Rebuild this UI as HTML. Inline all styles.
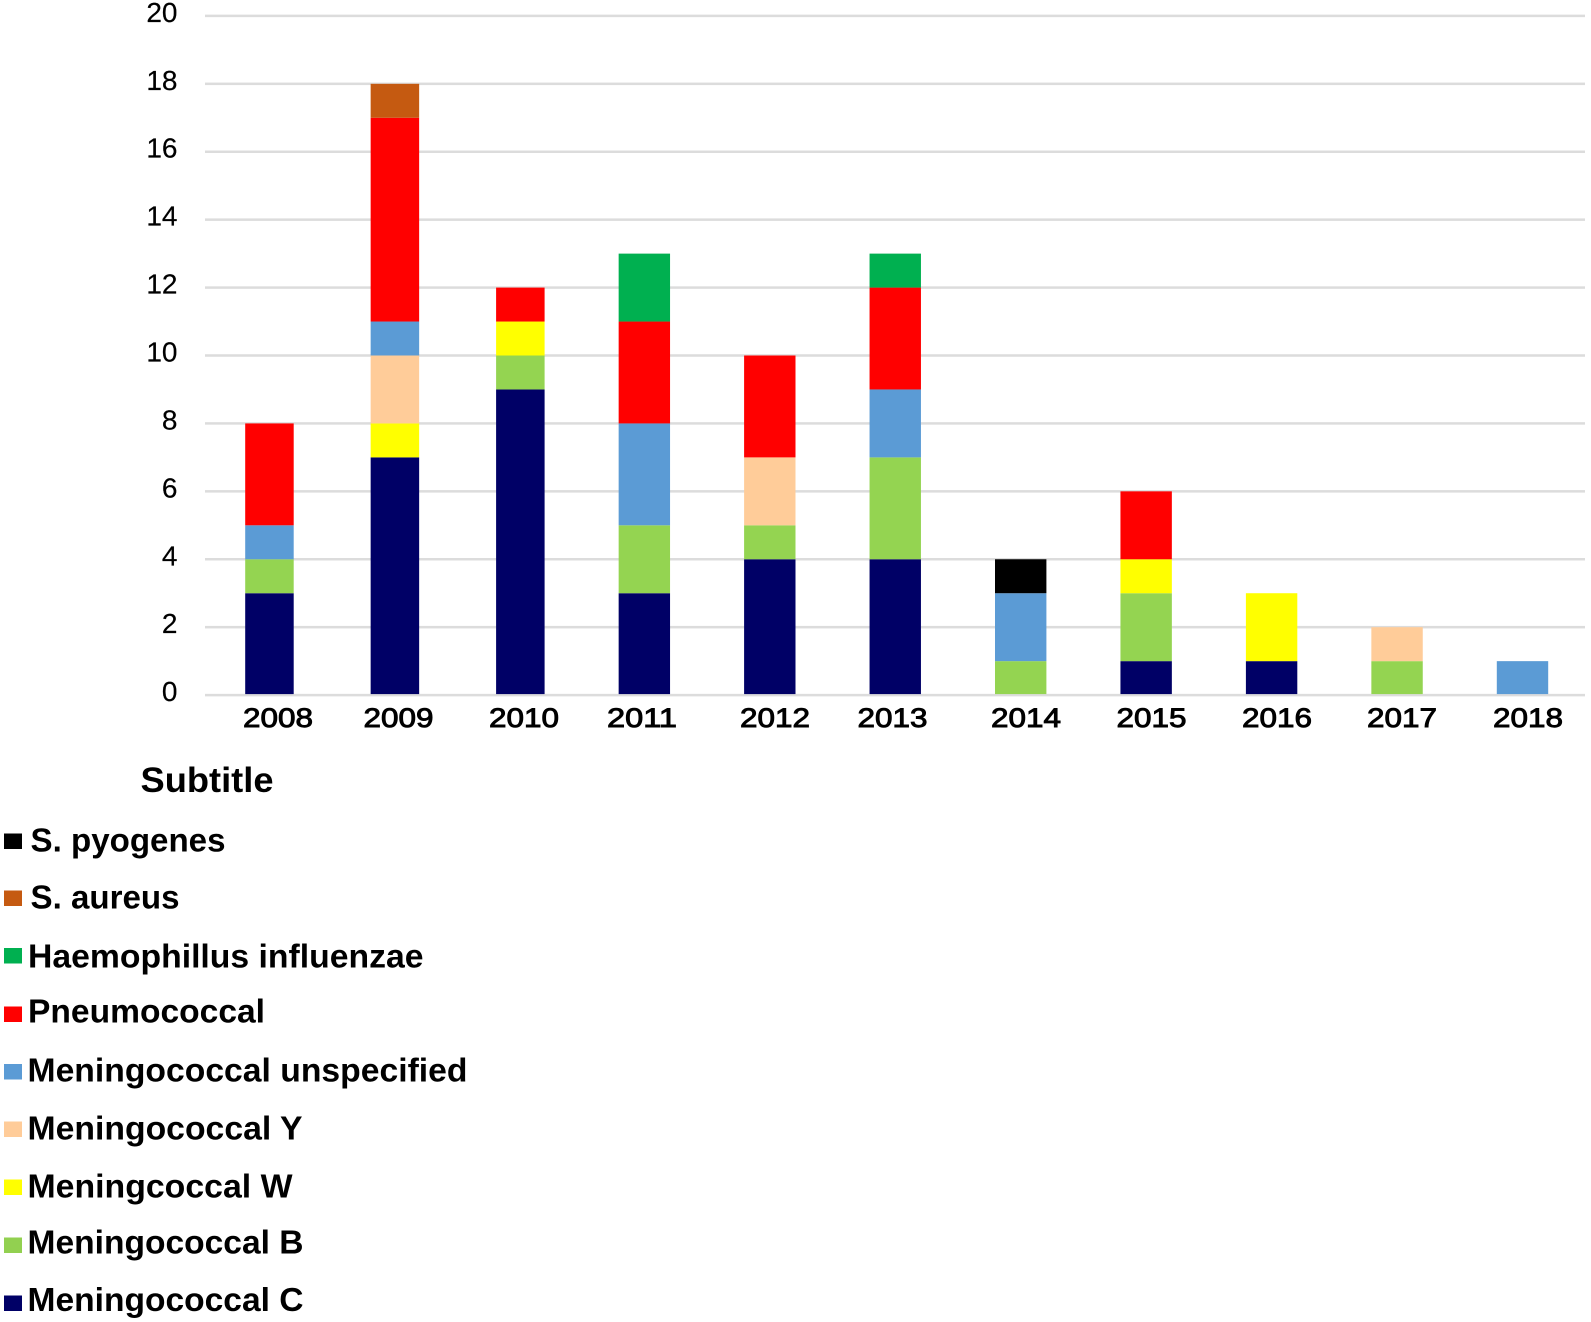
<!DOCTYPE html>
<html lang="en">
<head>
<meta charset="utf-8">
<title>Stacked bar chart by year</title>
<style>
html,body{margin:0;padding:0;background:#fff;}
svg{display:block;}
text{font-family:"Liberation Sans",sans-serif;fill:#000;}
.year{font-size:27px;stroke:#000;stroke-width:.9px;}
.ytick{font-size:28px;stroke:#000;stroke-width:.2px;}
.leg{font-size:33px;font-weight:bold;}
</style>
</head>
<body>
<svg id="chart" width="1591" height="1322" viewBox="0 0 1591 1322" xmlns="http://www.w3.org/2000/svg">
  <g id="grid"></g>
  <g id="yticks"></g>
  <g id="bars"></g>
  <g>
    <text class="year" x="243" y="727" textLength="70" lengthAdjust="spacingAndGlyphs">2008</text>
    <text class="year" x="363.5" y="727" textLength="70" lengthAdjust="spacingAndGlyphs">2009</text>
    <text class="year" x="489" y="727" textLength="70" lengthAdjust="spacingAndGlyphs">2010</text>
    <text class="year" x="607" y="727" textLength="70" lengthAdjust="spacingAndGlyphs">2011</text>
    <text class="year" x="740" y="727" textLength="70" lengthAdjust="spacingAndGlyphs">2012</text>
    <text class="year" x="857.5" y="727" textLength="70" lengthAdjust="spacingAndGlyphs">2013</text>
    <text class="year" x="991" y="727" textLength="70" lengthAdjust="spacingAndGlyphs">2014</text>
    <text class="year" x="1116.5" y="727" textLength="70" lengthAdjust="spacingAndGlyphs">2015</text>
    <text class="year" x="1242" y="727" textLength="70" lengthAdjust="spacingAndGlyphs">2016</text>
    <text class="year" x="1367" y="727" textLength="70" lengthAdjust="spacingAndGlyphs">2017</text>
    <text class="year" x="1493" y="727" textLength="70" lengthAdjust="spacingAndGlyphs">2018</text>
  </g>
  <g>
    <text x="140.5" y="792" font-size="35" font-weight="bold" textLength="133" lengthAdjust="spacingAndGlyphs">Subtitle</text>

    <rect x="4" y="833.5" width="18" height="15.5" fill="#000000"/>
    <text class="leg" x="30.5" y="851.5" textLength="195" lengthAdjust="spacingAndGlyphs">S. pyogenes</text>

    <rect x="4" y="890.5" width="18" height="15.5" fill="#C55A11"/>
    <text class="leg" x="30.5" y="908.5" textLength="149" lengthAdjust="spacingAndGlyphs">S. aureus</text>

    <rect x="4" y="948" width="18" height="15.5" fill="#00B050"/>
    <text class="leg" x="28" y="967.5" textLength="395.5" lengthAdjust="spacingAndGlyphs">Haemophillus influenzae</text>

    <rect x="4" y="1006.5" width="18" height="15.5" fill="#FF0000"/>
    <text class="leg" x="28" y="1022.5" textLength="237" lengthAdjust="spacingAndGlyphs">Pneumococcal</text>

    <rect x="4" y="1064" width="18" height="15.5" fill="#5B9BD5"/>
    <text class="leg" x="27.5" y="1081.5" textLength="440" lengthAdjust="spacingAndGlyphs">Meningococcal unspecified</text>

    <rect x="4" y="1121.5" width="18" height="15.5" fill="#FFCC99"/>
    <text class="leg" x="27.5" y="1139.5" textLength="275" lengthAdjust="spacingAndGlyphs">Meningococcal Y</text>

    <rect x="4" y="1179.5" width="18" height="15.5" fill="#FFFF00"/>
    <text class="leg" x="27.5" y="1197.5" textLength="265" lengthAdjust="spacingAndGlyphs">Meningcoccal W</text>

    <rect x="4" y="1237.5" width="18" height="15.5" fill="#92D050"/>
    <text class="leg" x="27.5" y="1253.5" textLength="276" lengthAdjust="spacingAndGlyphs">Meningococcal B</text>

    <rect x="4" y="1295.5" width="18" height="15.5" fill="#000066"/>
    <text class="leg" x="27.5" y="1311" textLength="276" lengthAdjust="spacingAndGlyphs">Meningococcal C</text>
  </g>
</svg>
<script>
const categories = ["2008","2009","2010","2011","2012","2013","2014","2015","2016","2017","2018"];
const tickValues = [0,2,4,6,8,10,12,14,16,18,20];
const meningococcalC = [3,7,9,3,4,4,0,1,1,0,0];
const meningococcalB = [1,0,1,2,1,3,1,2,0,1,0];
const meningcoccalW = [0,1,1,0,0,0,0,1,2,0,0];
const meningococcalY = [0,2,0,0,2,0,0,0,0,1,0];
const meningococcalUnspecified = [1,1,0,3,0,2,2,0,0,0,1];
const pneumococcal = [3,6,1,3,3,3,0,2,0,0,0];
const haemophillusInfluenzae = [0,0,0,2,0,1,0,0,0,0,0];
const sAureus = [0,1,0,0,0,0,0,0,0,0,0];
const sPyogenes = [0,0,0,0,0,0,1,0,0,0,0];

const NS = "http://www.w3.org/2000/svg";
function yScale(v){ return 695.1 - 33.96 * v; }
function barRight(i){ return 293.7 + 125.45 * i; }
function barWidth(i){ return i < 3 ? 48.5 : 51.4; }

const gridGroup = document.getElementById("grid");
const tickGroup = document.getElementById("yticks");
tickValues.forEach(function(t){
  const line = document.createElementNS(NS, "rect");
  line.setAttribute("x", 205);
  line.setAttribute("y", yScale(t) - 1.25);
  line.setAttribute("width", 1380);
  line.setAttribute("height", 2.5);
  line.setAttribute("fill", "#dcdcdc");
  
  
  gridGroup.appendChild(line);

  const label = document.createElementNS(NS, "text");
  label.setAttribute("class", "ytick");
  label.setAttribute("x", 177.5);
  label.setAttribute("y", yScale(t) + 6);
  label.setAttribute("text-anchor", "end");
  label.textContent = String(t);
  
  
  tickGroup.appendChild(label);
});

const seriesValues = [meningococcalC, meningococcalB, meningcoccalW, meningococcalY, meningococcalUnspecified, pneumococcal, haemophillusInfluenzae, sAureus, sPyogenes];
const seriesFills = ["#000066","#94D451","#FFFF00","#FFCC99","#5B9BD5","#FF0000","#00B050","#C55A11","#000000"];
const barGroup = document.getElementById("bars");
categories.forEach(function(cat, i){
  let total = 0;
  seriesValues.forEach(function(values, s){
    const v = values[i];
    if (!v) return;
    const top = yScale(total + v);
    const bottom = yScale(total) - (total === 0 ? 1 : 0);
    const r = document.createElementNS(NS, "rect");
    r.setAttribute("x", barRight(i) - barWidth(i));
    r.setAttribute("y", top);
    r.setAttribute("width", barWidth(i));
    r.setAttribute("height", bottom - top);
    r.setAttribute("fill", seriesFills[s]);
    
    
    barGroup.appendChild(r);
    total += v;
  });
});
</script>
</body>
</html>
